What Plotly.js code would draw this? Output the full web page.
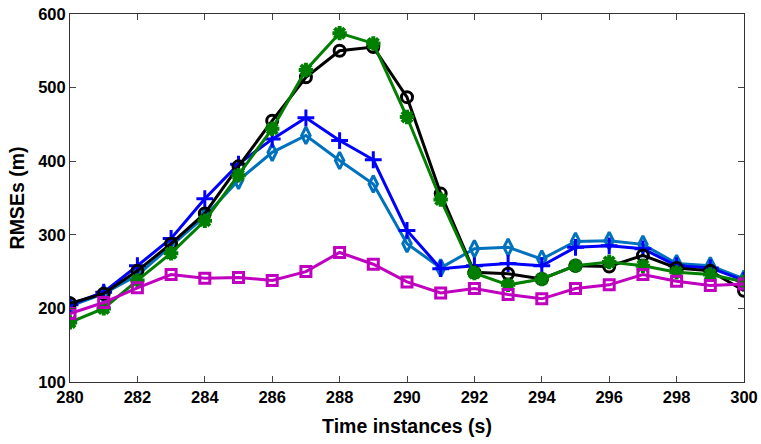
<!DOCTYPE html>
<html><head><meta charset="utf-8">
<script src="https://cdn.plot.ly/plotly-3.0.1.min.js"></script>
<style>html,body{margin:0;padding:0;background:#fff}#c{width:761px;height:444px}</style>
</head><body><div id="c"></div>
<script>
const times = [280,281,282,283,284,285,286,287,288,289,290,291,292,293,294,295,296,297,298,299,300];
const cyanVals    = [203,220,245,285,325,374,412,435,401,369,288,255,281,283,267,291,292,287,261,258,240];
const blueVals    = [205,222,258,295,349,396,430,459,428,402,306,254,258,261,258,283,285,281,258,255,238];
const blackVals   = [207,220,251,288,329,393,455,514,550,555,487,356,249,247,240,258,257,272,255,251,224];
const greenVals   = [181,200,238,275,319,381,444,524,574,560,460,348,248,232,240,258,263,258,249,246,236];
const magentaVals = [193,208,228,246,241,242,238,250,276,260,236,221,227,219,213,227,232,246,237,231,233];
const xTicks = [280,282,284,286,288,290,292,294,296,298,300];
const yTicks = [100,200,300,400,500,600];

function tr(y, color, symbol, size, mlw){
  return {x: times, y: y, type:'scatter', mode:'lines+markers',
    line:{color:color, width:3},
    marker:{symbol:symbol, size:size, color:color, line:{color:color, width:mlw}}};
}
const data = [
  tr(cyanVals,'#0072BD','diamond-tall-open',12,3),
  tr(blueVals,'#0000FF','cross-thin-open',12,3),
  tr(blackVals,'#000000','circle-open',11,3),
  tr(greenVals,'#007F00','asterisk-open',12,4),
  tr(magentaVals,'#BF00BF','square-open',10,3)
];
const fam = '"Liberation Sans", Arial, sans-serif';
const layout = {
  width:761, height:444, showlegend:false,
  paper_bgcolor:'#fff', plot_bgcolor:'#fff',
  margin:{l:70, r:17, t:14, b:62},
  font: {family:fam, size:17, color:'#000'},
  xaxis:{range:[280,300], tickvals:xTicks, ticks:'inside', ticklen:6, tickcolor:'#444',
    showline:true, linecolor:'#333', linewidth:1, mirror:'ticks', showgrid:false, zeroline:false,
    ticklabeloverflow:'allow',
    tickfont:{family:fam, size:16.5, color:'#000', weight:'bold'},
    title:{text:'<b>Time instances (s)</b>', font:{family:fam, size:19.5, color:'#000'}, standoff:14}},
  yaxis:{range:[100,600], tickvals:yTicks, ticks:'inside', ticklen:6, tickcolor:'#444',
    showline:true, linecolor:'#333', linewidth:1, mirror:'ticks', showgrid:false, zeroline:false,
    ticklabeloverflow:'allow',
    tickfont:{family:fam, size:16.5, color:'#000', weight:'bold'},
    title:{text:'<b>RMSEs (m)</b>', font:{family:fam, size:19.5, color:'#000'}, standoff:8}}
};
Plotly.newPlot('c', data, layout, {displayModeBar:false, staticPlot:true});
</script></body></html>
